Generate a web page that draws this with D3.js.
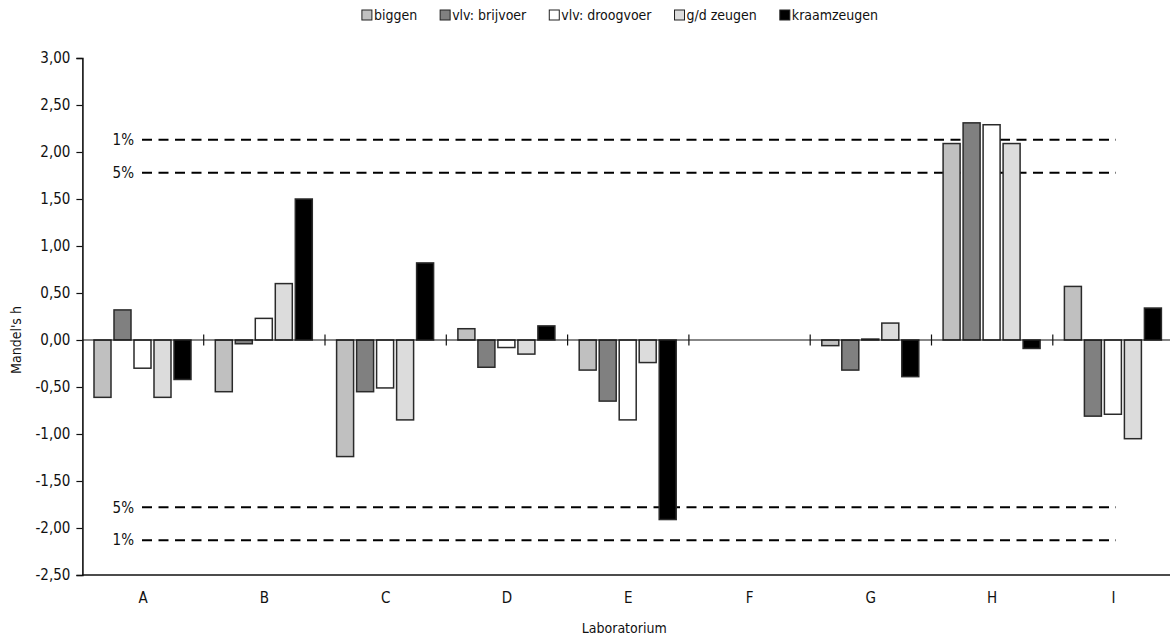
<!DOCTYPE html>
<html>
<head>
<meta charset="utf-8">
<script src="https://cdn.jsdelivr.net/npm/d3@7"></script>
<style>
  html, body { margin: 0; padding: 0; background: #fff; }
  svg { display: block; }
  text { font-family: "DejaVu Sans Condensed", "DejaVu Sans", sans-serif; font-stretch: condensed; fill: #111; }
</style>
</head>
<body>
<svg id="chart" width="1170" height="640"></svg>
<script>
// ---------- data ----------
const labs = ["A", "B", "C", "D", "E", "F", "G", "H", "I"];
const seriesNames = ["biggen", "vlv: brijvoer", "vlv: droogvoer", "g/d zeugen", "kraamzeugen"];
const biggen      = [-0.61, -0.55, -1.24,  0.12, -0.32, 0, -0.06, 2.09,  0.57];
const brijvoer    = [ 0.32, -0.04, -0.55, -0.29, -0.65, 0, -0.32, 2.31, -0.81];
const droogvoer   = [-0.30,  0.23, -0.51, -0.08, -0.85, 0,  0.01, 2.29, -0.79];
const gdZeugen    = [-0.61,  0.60, -0.85, -0.15, -0.24, 0,  0.18, 2.09, -1.05];
const kraamzeugen = [-0.42,  1.50,  0.82,  0.15, -1.91, 0, -0.39, -0.09, 0.34];
const yTicks = [3.0, 2.5, 2.0, 1.5, 1.0, 0.5, 0.0, -0.5, -1.0, -1.5, -2.0, -2.5];
const limitLines = [
  { label: "1%", value: 2.13 },
  { label: "5%", value: 1.78 },
  { label: "5%", value: -1.78 },
  { label: "1%", value: -2.13 }
];
const colors = ["#c0c0c0", "#808080", "#ffffff", "#dcdcdc", "#000000"];

const seriesValues = [biggen, brijvoer, droogvoer, gdZeugen, kraamzeugen];
const rows = [];
labs.forEach((lab, i) => {
  seriesNames.forEach((s, j) => rows.push({ lab, series: s, value: seriesValues[j][i], color: colors[j] }));
});

// ---------- layout ----------
const svg = d3.select("#chart");
const left = 82.4, band = 121.3;
const x = d3.scaleBand().domain(labs).range([left, left + band * labs.length]).padding(0);
const xs = d3.scaleBand().domain(seriesNames).range([11.6, 108.6]).paddingInner(0.15);
const y = d3.scaleLinear().domain([-2.5, 3]).range([575, 58]);

const fmt = v => d3.format(".2f")(v).replace(".", ",").replace("−", "-");

// y axis
const yAxis = d3.axisLeft(y).tickValues(yTicks).tickSize(6).tickFormat(fmt);
const gy = svg.append("g").attr("transform", `translate(${left},0)`).call(yAxis);
gy.select(".domain").attr("stroke", "#111").attr("stroke-width", 1.6);
gy.selectAll(".tick line").attr("stroke", "#111").attr("stroke-width", 1.2);
gy.selectAll(".tick text").attr("x", -12).style("font-size", "15px").attr("fill", "#222");

// bottom frame line
svg.append("line")
  .attr("x1", left).attr("x2", 1170)
  .attr("y1", y(-2.5)).attr("y2", y(-2.5))
  .attr("stroke", "#111").attr("stroke-width", 1.6);

// x category labels (bottom)
const xAxis = d3.axisBottom(x).tickSize(0).tickPadding(17);
const gx = svg.append("g").attr("transform", `translate(0,${y(-2.5)})`).call(xAxis);
gx.select(".domain").remove();
gx.selectAll(".tick text").style("font-size", "15px").attr("fill", "#222");

// dashed limit lines
const lim = svg.append("g");
lim.selectAll("line").data(limitLines).join("line")
  .attr("x1", 142).attr("x2", 1116)
  .attr("y1", d => y(d.value)).attr("y2", d => y(d.value))
  .attr("stroke", "#000").attr("stroke-width", 2).attr("stroke-dasharray", "10,6.5");
lim.selectAll("text").data(limitLines).join("text")
  .attr("x", 134).attr("y", d => y(d.value)).attr("dy", "0.35em")
  .attr("text-anchor", "end").style("font-size", "15px").attr("fill", "#222")
  .text(d => d.label);

// bars
const bars = svg.append("g");
bars.selectAll("rect").data(rows).join("rect")
  .attr("x", d => x(d.lab) + xs(d.series))
  .attr("width", xs.bandwidth())
  .attr("y", d => y(Math.max(0, d.value)))
  .attr("height", d => Math.abs(y(d.value) - y(0)))
  .attr("fill", d => d.color)
  .attr("stroke", "#2a2a2a").attr("stroke-width", 1.5);

// zero line with category boundary ticks
svg.append("line")
  .attr("x1", left).attr("x2", 1170)
  .attr("y1", y(0)).attr("y2", y(0))
  .attr("stroke", "#111").attr("stroke-width", 1.2);
svg.append("g").selectAll("line").data(labs.slice(1)).join("line")
  .attr("x1", d => x(d)).attr("x2", d => x(d))
  .attr("y1", y(0) - 5.5).attr("y2", y(0) + 5.5)
  .attr("stroke", "#111").attr("stroke-width", 1.2);

// axis titles
svg.append("text")
  .attr("transform", `translate(21,${y(0)}) rotate(-90)`)
  .attr("text-anchor", "middle").style("font-size", "14px").attr("fill", "#222")
  .text("Mandel's h");
svg.append("text")
  .attr("x", left + band * labs.length / 2 - 4).attr("y", 633)
  .attr("text-anchor", "middle").style("font-size", "14px").attr("fill", "#222")
  .text("Laboratorium");

// legend
const legend = svg.append("g");
const items = legend.selectAll("g").data(seriesNames).join("g");
items.append("rect")
  .attr("width", 10).attr("height", 10).attr("y", -5)
  .attr("fill", (d, i) => colors[i]).attr("stroke", "#222").attr("stroke-width", 1);
items.append("text")
  .attr("x", 12).attr("dy", "0.35em").style("font-size", "14px").attr("fill", "#222")
  .text(d => d);
let cx = 0;
items.each(function () {
  const g = d3.select(this);
  g.attr("transform", `translate(${cx},0)`);
  const w = g.select("text").node().getComputedTextLength();
  cx += 12 + w + 23;
});
const totalW = cx - 23;
legend.attr("transform", `translate(${620 - totalW / 2},15)`);
</script>
</body>
</html>
